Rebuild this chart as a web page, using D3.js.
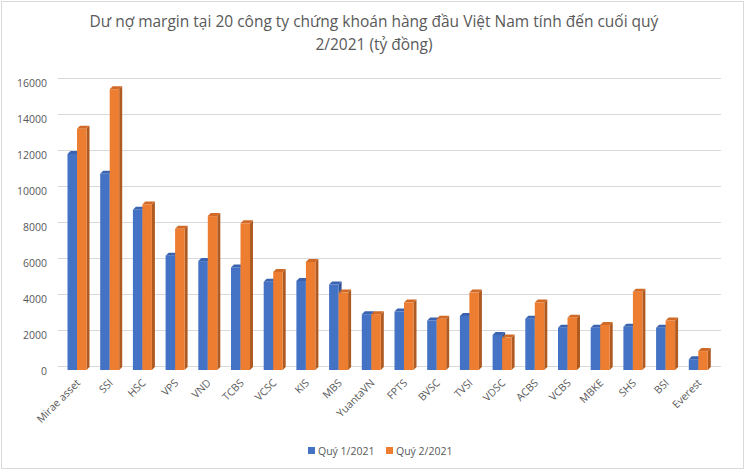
<!DOCTYPE html>
<html><head><meta charset="utf-8">
<script src="https://cdn.jsdelivr.net/npm/d3@7"></script>
<style>html,body{margin:0;padding:0;background:#fff}svg{display:block}</style>
</head><body>
<script>
const categories = ["Mirae asset","SSI","HSC","VPS","VND","TCBS","VCSC","KIS","MBS","YuantaVN","FPTS","BVSC","TVSI","VDSC","ACBS","VCBS","MBKE","SHS","BSI","Everest"];
const q1Values = [12000,10900,8900,6350,6050,5700,4900,4950,4750,3100,3250,2750,3000,1950,2850,2350,2350,2400,2350,600];
const q2Values = [13400,15600,9200,7850,8550,8150,5450,6000,4300,3100,3750,2850,4300,1800,3750,2900,2500,4350,2750,1050];
const seriesNames = ["Quý 1/2021","Quý 2/2021"];
const yTicks = [0,2000,4000,6000,8000,10000,12000,14000,16000];
const titleLines = ["Dư nợ margin tại 20 công ty chứng khoán hàng đầu Việt Nam tính đến cuối quý","2/2021 (tỷ đồng)"];

const W = 748, H = 472;
const font = "'Open Sans', 'Noto Sans', sans-serif";
const textColor = "#595959";
const colors = [{front:"#4472c4", side:"#2f5597", top:"#3a63b0"},{front:"#ed7d31", side:"#ae5a21", top:"#d06a26"}];

const svg = d3.select("body").append("svg").attr("width", W).attr("height", H);
svg.append("rect").attr("x",0).attr("y",0).attr("width",W).attr("height",H).attr("fill","#fff");
svg.append("rect").attr("x",1.5).attr("y",1.5).attr("width",742).attr("height",467).attr("fill","none").attr("stroke","#d9d9d9");

// title
svg.append("text").attr("x",374).attr("y",27).attr("text-anchor","middle")
  .attr("font-family",font).attr("font-size",15.5).attr("fill",textColor)
  .selectAll("tspan").data(titleLines).join("tspan")
  .attr("x",374).attr("dy",(d,i)=> i===0?0:23).text(d=>d);

const y = d3.scaleLinear().domain([0,16000]).range([370,82]);
const x = d3.scaleBand().domain(categories).range([57,711]);
const depthX = 3, depthY = -3;
const barW = 9.5, innerOff = 10.5;

// gridlines (back wall)
svg.append("g").selectAll("line").data(yTicks).join("line")
  .attr("x1",58).attr("x2",721)
  .attr("y1",d=>y(d)-3.5).attr("y2",d=>y(d)-3.5)
  .attr("stroke","#d9d9d9").attr("stroke-width",1);

// y labels
svg.append("g").selectAll("text").data(yTicks).join("text")
  .attr("x",47).attr("y",d=>y(d)+1.5).attr("dy","0.35em").attr("text-anchor","end")
  .attr("font-family",font).attr("font-size",10.5).attr("fill",textColor)
  .text(d=>d);

// bars
const series = [q1Values, q2Values];
const gBars = svg.append("g");
categories.forEach((c,i)=>{
  series.forEach((vals,j)=>{
    const v = vals[i];
    const x0 = x(c)+innerOff+j*barW, x1 = x0+barW;
    const yt = y(v), yb = y(0);
    const col = colors[j];
    gBars.append("path").attr("d",`M${x1},${yt}L${x1+depthX},${yt+depthY}L${x1+depthX},${yb+depthY}L${x1},${yb}Z`).attr("fill",col.side);
    gBars.append("path").attr("d",`M${x0},${yt}L${x0+depthX},${yt+depthY}L${x1+depthX},${yt+depthY}L${x1},${yt}Z`).attr("fill",col.top);
    gBars.append("rect").attr("x",x0).attr("y",yt).attr("width",barW).attr("height",yb-yt).attr("fill",col.front);
  });
});

// x labels
svg.append("g").selectAll("text").data(categories).join("text")
  .attr("transform",d=>`translate(${x(d)+x.bandwidth()/2+5},${381}) rotate(-45)`)
  .attr("text-anchor","end").attr("dy","0.35em")
  .attr("font-family",font).attr("font-size",10.5).attr("fill",textColor)
  .text(d=>d);

// legend
const legend = svg.append("g");
const legX = [308, 386];
seriesNames.forEach((n,j)=>{
  legend.append("rect").attr("x",legX[j]).attr("y",447).attr("width",7).attr("height",7).attr("fill",colors[j].front);
  legend.append("text").attr("x",legX[j]+10).attr("y",451).attr("dy","0.35em")
    .attr("font-family",font).attr("font-size",10.5).attr("fill",textColor).text(n);
});
</script>
</body></html>
